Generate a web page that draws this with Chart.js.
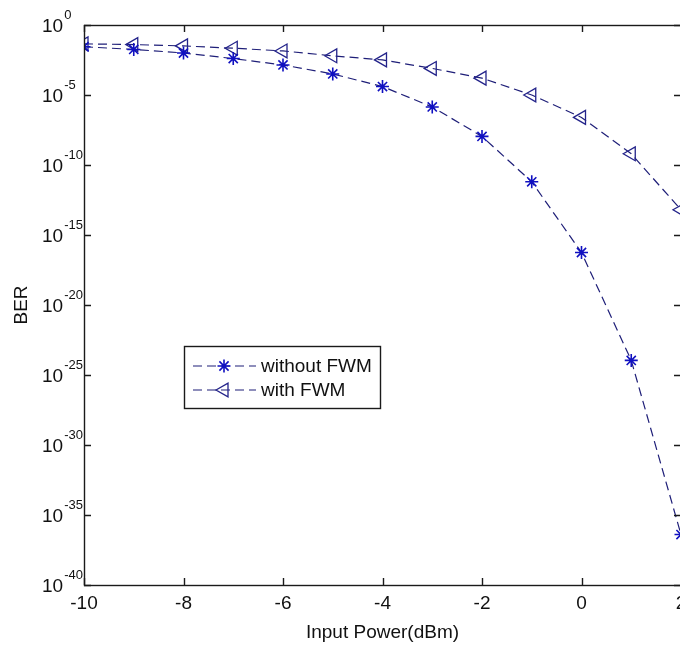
<!DOCTYPE html>
<html>
<head>
<meta charset="utf-8">
<title>BER vs Input Power</title>
<script src="https://cdn.jsdelivr.net/npm/chart.js@4.4.1/dist/chart.umd.min.js"></script>
<style>
  html, body { margin: 0; padding: 0; background: #fff; overflow: hidden; }
  #wrap { width: 700px; height: 648px; }
</style>
</head>
<body>
<div id="wrap"><canvas id="berChart" width="700" height="648"></canvas></div>
<script>
// data (x in dBm, BER on log axis)
const inputPower = [-10, -9, -8, -7, -6, -5, -4, -3, -2, -1, 0, 1, 2];
const berWithoutFwm = [2.8e-2, 1.8e-2, 1.0e-2, 4.0e-3, 1.4e-3, 3.2e-4, 4.0e-5, 1.4e-6, 1.1e-8, 6.3e-12, 5.6e-17, 1.1e-24, 4.0e-37];
const berWithFwm = [4.5e-2, 4.0e-2, 3.2e-2, 2.2e-2, 1.4e-2, 6.3e-3, 3.2e-3, 7.9e-4, 1.6e-4, 1.0e-5, 2.5e-7, 6.3e-10, 6.3e-14];
const seriesLabels = ['without FWM', 'with FWM'];
const xTicks = [-10, -8, -6, -4, -2, 0, 2];
const yTickExponents = [0, -5, -10, -15, -20, -25, -30, -35, -40];

const fontFamily = "'Liberation Sans', Arial, sans-serif";
const fontSize = 19;
Chart.defaults.font.family = fontFamily;
Chart.defaults.color = '#000';

const lineColor = '#1e1e78';

// y labels as 10 with a raised exponent, like matlab
const powerLabels = {
  id: 'powerLabels',
  afterDraw(chart) {
    const { ctx, scales: { y } } = chart;
    ctx.save();
    ctx.fillStyle = '#111';
    ctx.textAlign = 'left';
    ctx.textBaseline = 'middle';
    yTickExponents.forEach(e => {
      const py = y.getPixelForValue(Math.pow(10, e));
      ctx.font = fontSize + 'px ' + fontFamily;
      ctx.fillText('10', 42, py + 2);
      const w = ctx.measureText('10').width;
      ctx.font = '13px ' + fontFamily;
      ctx.fillText(String(e), 42 + w + 1, py - 10);
    });
    ctx.restore();
  }
};

// box round the axes with inward ticks
const matlabBox = {
  id: 'matlabBox',
  afterDatasetsDraw(chart) {
    const { ctx, chartArea: a, scales: { x, y } } = chart;
    const tl = 7;
    ctx.save();
    ctx.strokeStyle = '#1a1a1a';
    ctx.lineWidth = 1.4;
    ctx.strokeRect(a.left + 0.5, a.top + 0.5, a.right - a.left, a.bottom - a.top);
    ctx.beginPath();
    xTicks.forEach(v => {
      const px = Math.round(x.getPixelForValue(v)) + 0.5;
      ctx.moveTo(px, a.bottom); ctx.lineTo(px, a.bottom - tl);
      ctx.moveTo(px, a.top); ctx.lineTo(px, a.top + tl);
    });
    yTickExponents.forEach(e => {
      const py = Math.round(y.getPixelForValue(Math.pow(10, e))) + 0.5;
      ctx.moveTo(a.left, py); ctx.lineTo(a.left + tl, py);
      ctx.moveTo(a.right, py); ctx.lineTo(a.right - tl, py);
    });
    ctx.stroke();
    ctx.restore();
  }
};

// legend box sitting inside the axes
const boxLegend = {
  id: 'boxLegend',
  afterDraw(chart) {
    const { ctx } = chart;
    const bx = 184, by = 346, bw = 196, bh = 62;
    ctx.save();
    ctx.fillStyle = '#fff';
    ctx.fillRect(bx, by, bw, bh);
    ctx.strokeStyle = '#1a1a1a';
    ctx.lineWidth = 1.4;
    ctx.strokeRect(bx + 0.5, by + 0.5, bw, bh);
    chart.data.datasets.forEach((ds, i) => {
      const ry = by + 20 + i * 24;
      ctx.strokeStyle = ds.borderColor;
      ctx.lineWidth = ds.borderWidth;
      ctx.setLineDash([9, 5]);
      ctx.beginPath();
      ctx.moveTo(bx + 9, ry);
      ctx.lineTo(bx + 72, ry);
      ctx.stroke();
      ctx.setLineDash([]);
      ctx.strokeStyle = ds.pointBorderColor;
      ctx.fillStyle = ds.pointBackgroundColor;
      ctx.lineWidth = ds.pointBorderWidth;
      Chart.helpers.drawPoint(ctx, {
        pointStyle: ds.pointStyle,
        radius: ds.pointRadius,
        rotation: ds.pointRotation || 0,
        borderWidth: ds.pointBorderWidth
      }, bx + 40, ry);
      ctx.fillStyle = '#111';
      ctx.font = fontSize + 'px ' + fontFamily;
      ctx.textAlign = 'left';
      ctx.textBaseline = 'middle';
      ctx.fillText(ds.label, bx + 77, ry + 1);
    });
    ctx.restore();
  }
};

new Chart(document.getElementById('berChart'), {
  type: 'line',
  data: {
    datasets: [
      {
        label: seriesLabels[0],
        data: inputPower.map((p, i) => ({ x: p, y: berWithoutFwm[i] })),
        borderColor: lineColor,
        borderWidth: 1.2,
        borderDash: [9, 5],
        pointStyle: 'star',
        pointRadius: 6.5,
        pointBorderColor: '#1010c0',
        pointBackgroundColor: '#1010c0',
        pointBorderWidth: 1.6,
        tension: 0,
        fill: false
      },
      {
        label: seriesLabels[1],
        data: inputPower.map((p, i) => ({ x: p, y: berWithFwm[i] })),
        borderColor: lineColor,
        borderWidth: 1.2,
        borderDash: [9, 5],
        pointStyle: 'triangle',
        pointRotation: -90,
        pointRadius: 8,
        pointBorderColor: '#23238a',
        pointBackgroundColor: 'rgba(0,0,0,0)',
        pointBorderWidth: 1.3,
        tension: 0,
        fill: false
      }
    ]
  },
  options: {
    responsive: false,
    animation: false,
    layout: { padding: { top: 25, right: 19, left: 0, bottom: 0 } },
    plugins: {
      legend: { display: false },
      tooltip: { enabled: false }
    },
    scales: {
      x: {
        type: 'linear',
        min: -10,
        max: 2,
        afterBuildTicks: s => { s.ticks = xTicks.map(v => ({ value: v })); },
        afterFit: s => { s.height = 63; },
        ticks: { font: { size: fontSize }, color: '#111', padding: 7, maxRotation: 0, autoSkip: false },
        grid: { display: false, drawTicks: false },
        border: { display: false },
        title: {
          display: true,
          text: 'Input Power(dBm)',
          font: { size: fontSize },
          color: '#111',
          padding: { top: 0, bottom: 4 }
        }
      },
      y: {
        type: 'logarithmic',
        min: 1e-40,
        max: 1,
        afterBuildTicks: s => { s.ticks = yTickExponents.map(e => ({ value: Math.pow(10, e) })); },
        afterFit: s => { s.width = 84; },
        ticks: { display: false },
        grid: { display: false, drawTicks: false },
        border: { display: false },
        title: {
          display: true,
          text: 'BER',
          font: { size: fontSize },
          color: '#111',
          padding: { top: 10, bottom: 0 }
        }
      }
    }
  },
  plugins: [matlabBox, powerLabels, boxLegend]
});
</script>
</body>
</html>
